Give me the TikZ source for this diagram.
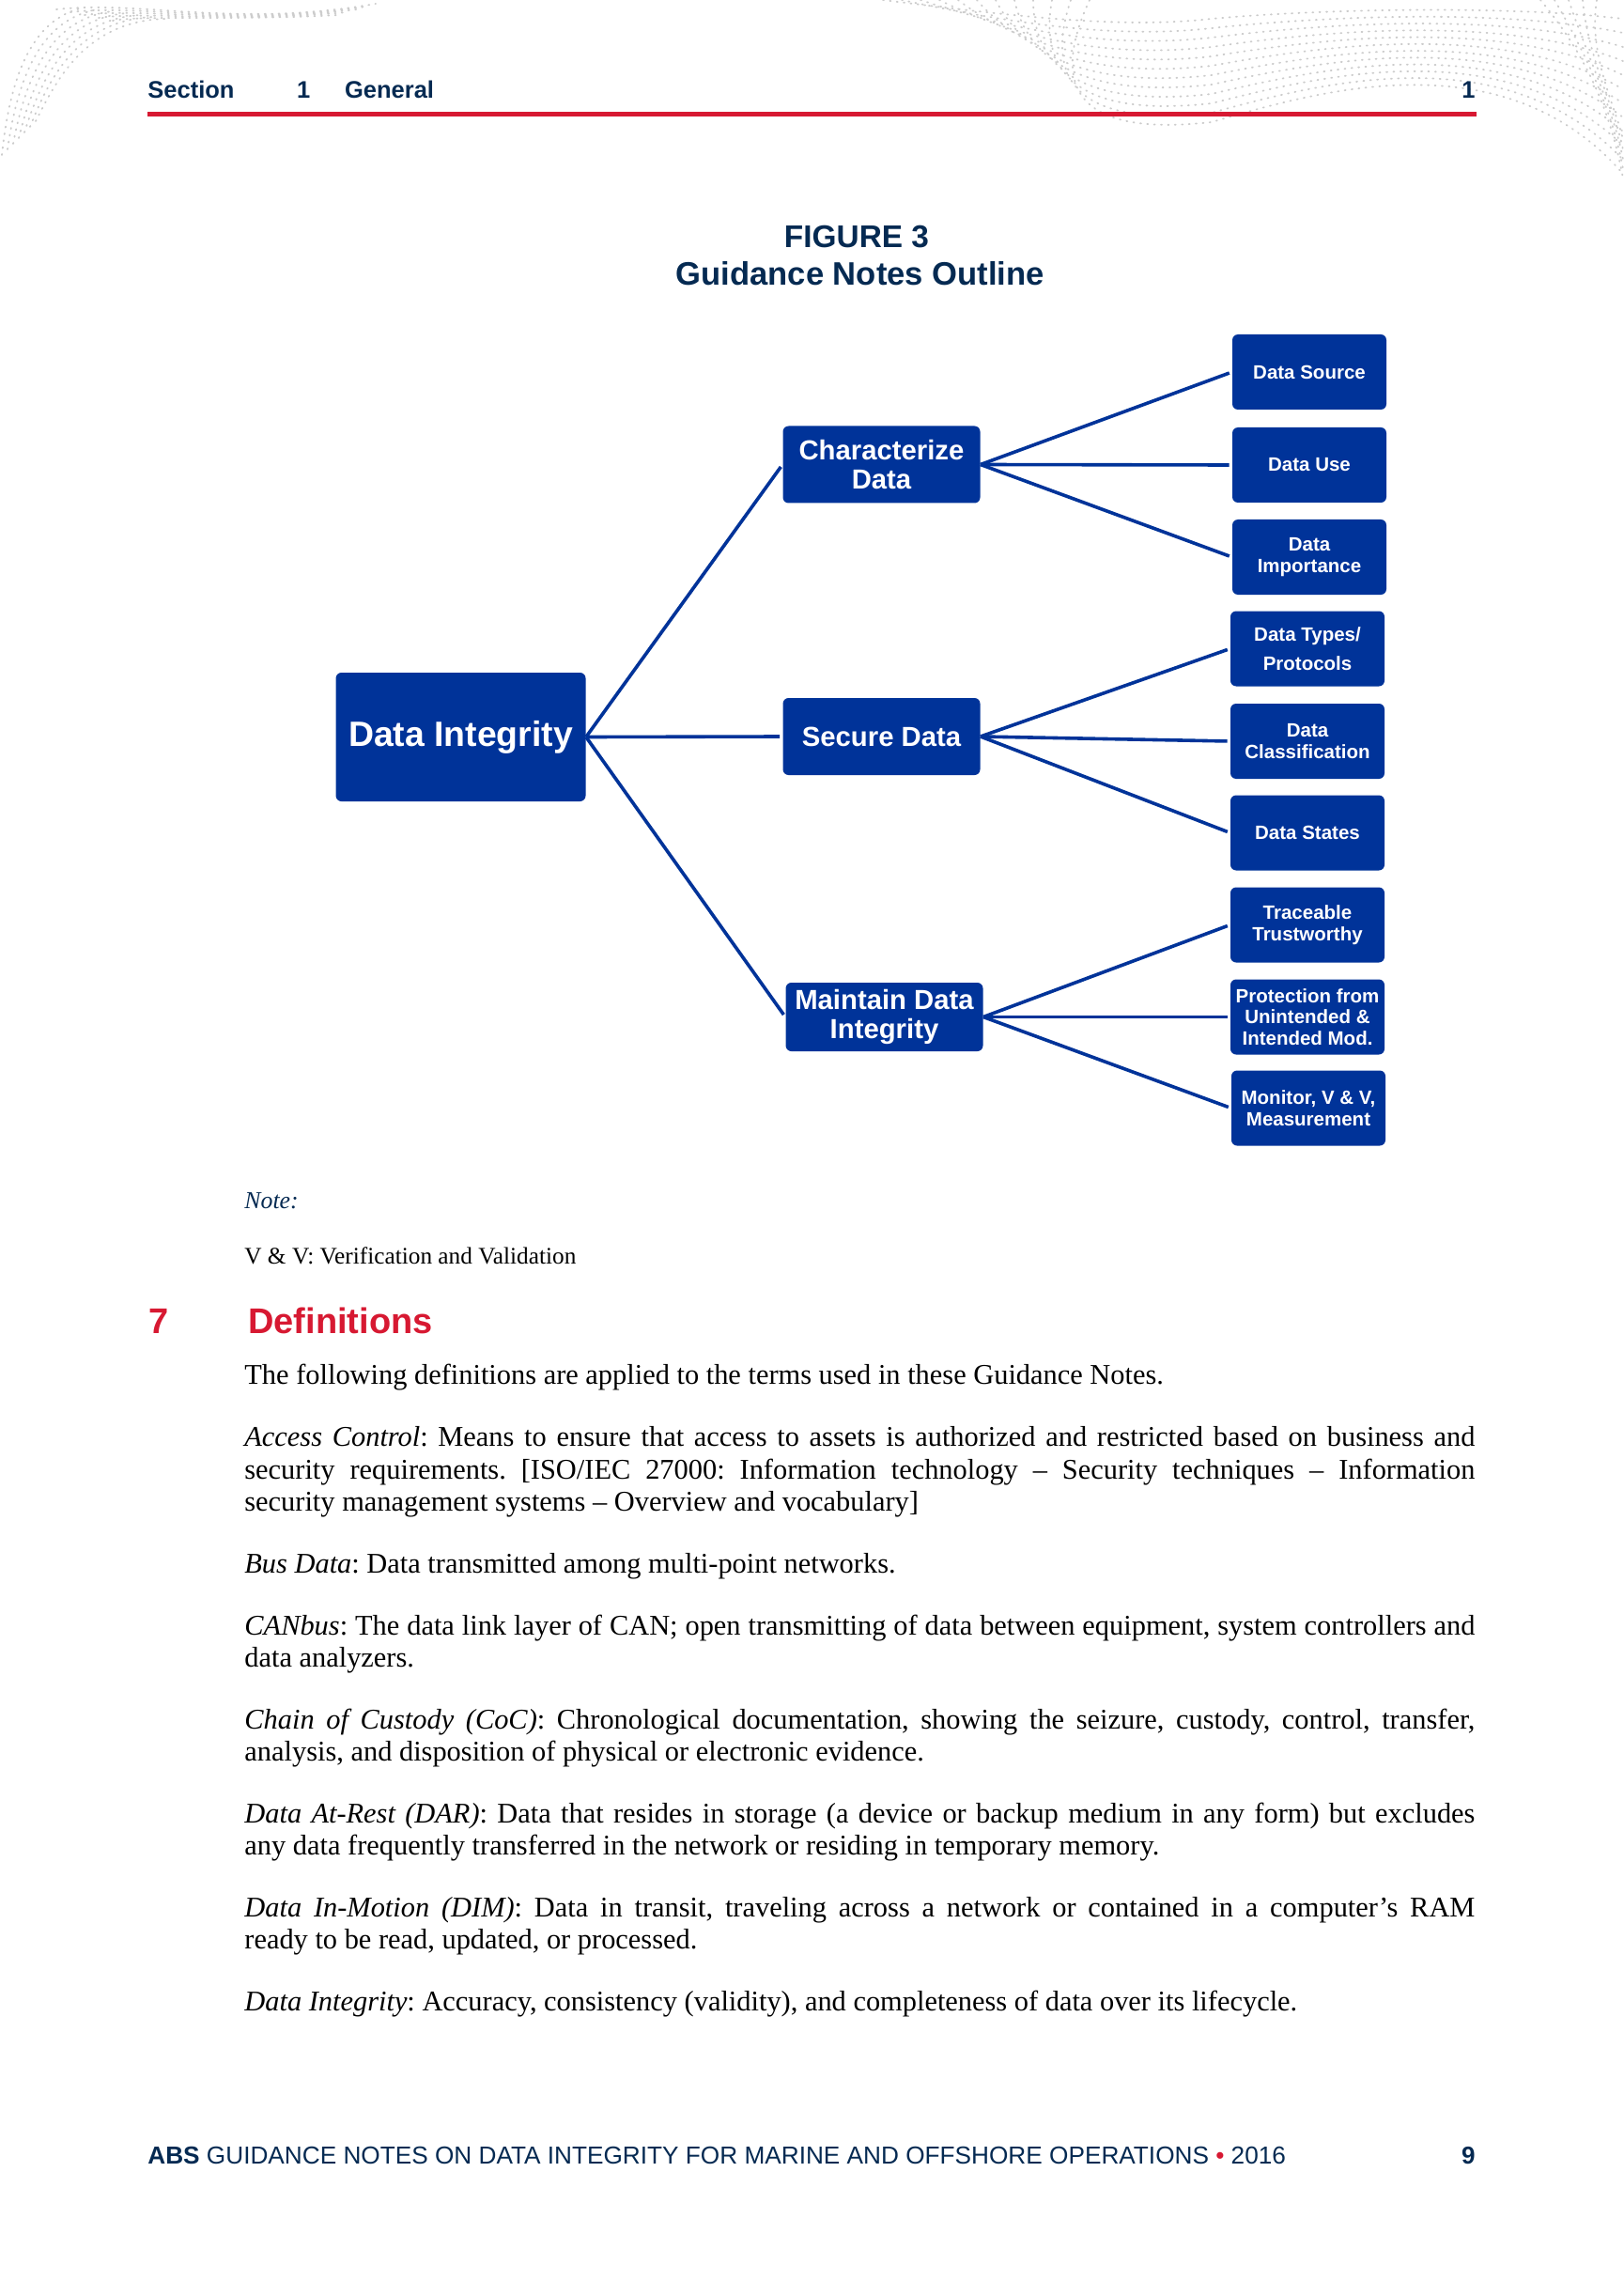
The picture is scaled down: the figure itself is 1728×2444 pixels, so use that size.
\documentclass[tikz,border=0pt]{standalone}
\usepackage{fontspec}
\setmainfont{Liberation Serif}
\newfontfamily\arialf{Liberation Sans}
\definecolor{boxblue}{RGB}{0,51,153}
\definecolor{navy}{RGB}{5,42,82}
\definecolor{absred}{RGB}{215,25,50}
\frenchspacing
\tikzset{
  boxbase/.style={rectangle, rounded corners=3pt, fill=boxblue, text=white, inner sep=1pt, align=center},
  leaf/.style={boxbase, minimum width=82pt, minimum height=40pt, font=\arialf\bfseries\fontsize{10.25}{11.25}\selectfont},
  leafwide/.style={boxbase, minimum width=82pt, minimum height=40pt, font=\arialf\bfseries\fontsize{10.25}{15.5}\selectfont},
  mid/.style={boxbase, minimum width=105pt, minimum height=41pt, font=\arialf\bfseries\fontsize{14.65}{15.5}\selectfont},
  root/.style={boxbase, minimum width=133pt, minimum height=68.5pt, font=\arialf\bfseries\fontsize{18.7}{22}\selectfont},
  link/.style={draw=boxblue, line width=1.8pt, shorten >=1.5pt},
  hdr/.style={anchor=base west, inner sep=0pt, text=navy, font=\arialf\bfseries\fontsize{12.75}{15}\selectfont},
  para/.style={anchor=north west, inner sep=0pt, text width=655pt, align=justify, font=\frenchspacing\fontsize{15.2}{17.15}\selectfont},
  dots/.style={gray!40, line width=0.9pt, dash pattern=on 0.5pt off 3.2pt, line cap=round},
}
\begin{document}
\begin{tikzpicture}[x=0.5pt,y=-0.5pt]
\useasboundingbox (0,0) rectangle (1728,2444);
\fill[white] (0,0) rectangle (1728,2444);
% decorative dotted waves
\foreach \t in {0,...,6}
  \draw[dots] (2+6*\t,165-6*\t) .. controls (10+8*\t,90) and (30+10*\t,20) .. (90+15*\t,8+2*\t);
\foreach \t in {0,...,4}
  \draw[dots] (60+15*\t,10+3*\t) .. controls (150,4*\t) and (250,30-2*\t) .. (400-10*\t,4+3*\t);
\foreach \t in {0,...,11}
  \draw[dots] (940+20*\t,0) .. controls (1100,20+10*\t) and (1200,30+10*\t) .. (1290,20+10*\t) .. controls (1400,10+8*\t) and (1600,5+3*\t) .. (1728,20+15*\t);
\foreach \t in {0,...,4}
  \draw[dots] (1640+15*\t,0) .. controls (1690,60) and (1715+2*\t,120) .. (1728,190-10*\t);
% header
\node[hdr] (hsec) at (157,105) {Section};
\node[hdr] (hnum) at (315.7,105) {1};
\node[hdr] (hgen) at (366.7,105) {General};
\node[hdr, anchor=base east] (hpage) at (1571,105) {1};
\fill[absred] (157,119) rectangle (1572,124);
% title
\node[anchor=base, inner sep=0pt, text=navy, font=\arialf\bfseries\fontsize{16.7}{20}\selectfont] (fig) at (912,263.3) {FIGURE 3};
\node[anchor=base, inner sep=0pt, text=navy, font=\arialf\bfseries\fontsize{17.3}{20}\selectfont] (figt) at (915.8,303.3) {Guidance Notes Outline};
% diagram
\node[root] (di) at (490.5,784.5) {Data Integrity};
\node[mid] (cd) at (938.5,494.5) {Characterize\\Data};
\node[mid] (sd) at (938.5,784) {Secure Data};
\node[mid, minimum height=36.5pt] (md) at (941.5,1082.5) {Maintain Data\\Integrity};
\node[leaf] (ds) at (1394,396) {Data Source};
\node[leaf] (du) at (1394,495) {Data Use};
\node[leaf] (dimp) at (1394,593) {Data\\Importance};
\node[leafwide] (dtp) at (1392,690.5) {Data Types/\\Protocols};
\node[leaf] (dcl) at (1392,789) {Data\\Classification};
\node[leaf] (dst) at (1392,886.5) {Data States};
\node[leaf] (tt) at (1392,984.5) {Traceable\\Trustworthy};
\node[leaf] (pu) at (1392,1082.5) {Protection from\\Unintended \&\\Intended Mod.};
\node[leaf] (mv) at (1393,1179.5) {Monitor, V \& V,\\Measurement};
\draw[link] (di.east) -- (cd.west);
\draw[link] (di.east) -- (sd.west);
\draw[link] (di.east) -- (md.west);
\draw[link] (cd.east) -- (ds.west);
\draw[link] (cd.east) -- (du.west);
\draw[link] (cd.east) -- (dimp.west);
\draw[link] (sd.east) -- (dtp.west);
\draw[link] (sd.east) -- (dcl.west);
\draw[link] (sd.east) -- (dst.west);
\draw[link] (md.east) -- (tt.west);
\draw[link] (md.east) -- (pu.west);
\draw[link] (md.east) -- (mv.west);
% note
\node[anchor=base west, inner sep=0pt, text=navy, font=\fontsize{12.9}{15}\selectfont\itshape] (note) at (260,1286) {Note:};
\node[anchor=base west, inner sep=0pt, font=\fontsize{12.65}{15}\selectfont] (vv) at (260,1345) {V \& V: Verification and Validation};
% definitions heading
\node[anchor=base west, inner sep=0pt, text=absred, font=\arialf\bfseries\fontsize{19}{22}\selectfont] (h7) at (158,1419.3) {7};
\node[anchor=base west, inner sep=0pt, text=absred, font=\arialf\bfseries\fontsize{19}{22}\selectfont] (hdef) at (264,1419.3) {Definitions};
% paragraphs
\node[para] (p0) at (260,1449) {\strut The following definitions are applied to the terms used in these Guidance Notes.};
\node[para] (p1) at (260,1515.4) {\strut\textit{Access Control}: Means to ensure that access to assets is authorized and restricted based on business and\linebreak security requirements. [ISO/IEC 27000: Information technology – Security techniques – Information\linebreak security management systems – Overview and vocabulary]};
\node[para] (p2) at (260,1650) {\strut\textit{Bus Data}: Data transmitted among multi-point networks.};
\node[para] (p3) at (260,1715.8) {\strut\textit{CANbus}: The data link layer of CAN; open transmitting of data between equipment, system controllers and\linebreak data analyzers.};
\node[para] (p4) at (260,1816) {\strut\textit{Chain of Custody (CoC)}: Chronological documentation, showing the seizure, custody, control, transfer,\linebreak analysis, and disposition of physical or electronic evidence.};
\node[para] (p5) at (260,1915.8) {\strut\textit{Data At-Rest (DAR)}: Data that resides in storage (a device or backup medium in any form) but excludes\linebreak any data frequently transferred in the network or residing in temporary memory.};
\node[para] (p6) at (260,2016) {\strut\textit{Data In-Motion (DIM)}: Data in transit, traveling across a network or contained in a computer’s RAM\linebreak ready to be read, updated, or processed.};
\node[para] (p7) at (260,2115.8) {\strut\textit{Data Integrity}: Accuracy, consistency (validity), and completeness of data over its lifecycle.};
% footer
\node[anchor=base west, inner sep=0pt, text=navy, font=\arialf\fontsize{13.1}{15}\selectfont] (foot) at (157,2303) {\textbf{ABS} GUIDANCE NOTES ON DATA INTEGRITY FOR MARINE AND OFFSHORE OPERATIONS {\color{absred}•} 2016};
\node[anchor=base east, inner sep=0pt, text=navy, font=\arialf\bfseries\fontsize{13}{15}\selectfont] (fpage) at (1571,2303) {9};
\end{tikzpicture}
\end{document}
